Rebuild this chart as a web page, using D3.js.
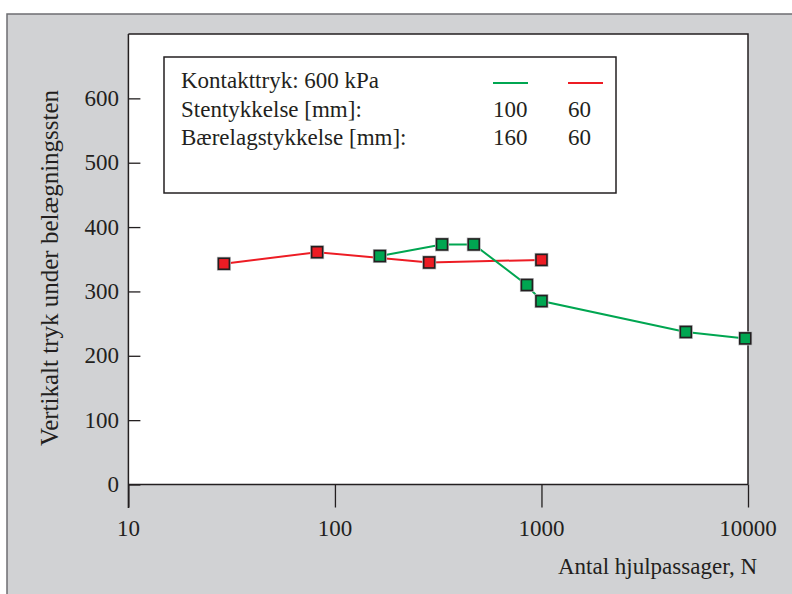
<!DOCTYPE html>
<html>
<head>
<meta charset="utf-8">
<script src="https://cdn.jsdelivr.net/npm/d3@7"></script>
<style>
  body { margin: 0; background: #fff; }
  text { font-family: "Liberation Serif", "Times New Roman", serif; fill: #231f20; }
</style>
</head>
<body>
<script>
const WIDTH = 792;
const HEIGHT = 594;

// data
var greenN = [165, 330, 470, 850, 1000, 5000, 9700];
var greenP = [355, 373, 373, 310, 285, 237, 227];
var redN = [29, 82, 286, 1000];
var redP = [343, 361, 345, 349];

var xTicks = [10, 100, 1000, 10000];
var yTicks = [0, 100, 200, 300, 400, 500, 600];

var legendRows = ['Kontakttryk: 600 kPa', 'Stentykkelse [mm]:', 'Bærelagstykkelse [mm]:'];
var legendGreen = ['', '100', '160'];
var legendRed = ['', '60', '60'];

var GREEN = '#00a651';
var RED = '#ed1c24';
var DARK = '#231f20';

var svg = d3.select('body')
    .append('svg')
    .attr('width', WIDTH)
    .attr('height', HEIGHT);

// grey background panel
svg.append('rect')
    .attr('x', 7)
    .attr('y', 14)
    .attr('width', 800)
    .attr('height', 600)
    .attr('fill', '#d1d2d4')
    .attr('stroke', '#6d6e71')
    .attr('stroke-width', 1.5);

var x = d3.scaleLog().domain([10, 10000]).range([128.4, 748]);
var y = d3.scaleLinear().domain([0, 700]).range([484.5, 34]);

// white plot area
svg.append('rect')
    .attr('x', x.range()[0])
    .attr('y', y.range()[1])
    .attr('width', x.range()[1] - x.range()[0])
    .attr('height', y.range()[0] - y.range()[1])
    .attr('fill', '#fff');

// top and right frame
svg.append('path')
    .attr('d', 'M' + x.range()[0] + ',' + y.range()[1] + 'H' + x.range()[1] + 'V' + y.range()[0])
    .attr('fill', 'none')
    .attr('stroke', DARK)
    .attr('stroke-width', 1.5);

// y axis
var yAxis = svg.append('g')
    .attr('transform', 'translate(' + x.range()[0] + ',0)')
    .call(d3.axisRight(y).tickValues(yTicks).tickSize(12).tickFormat(''));
yAxis.select('.domain').remove();
yAxis.selectAll('line').attr('stroke', DARK).attr('stroke-width', 1.3);
svg.append('line')
    .attr('x1', x.range()[0]).attr('x2', x.range()[0])
    .attr('y1', y.range()[1]).attr('y2', 508)
    .attr('stroke', DARK).attr('stroke-width', 1.5);

svg.selectAll('.ylab')
    .data(yTicks)
    .enter()
    .append('text')
    .attr('class', 'ylab')
    .attr('x', 119)
    .attr('y', function(d) { return y(d) + 7.5; })
    .attr('text-anchor', 'end')
    .attr('font-size', '23px')
    .text(function(d) { return d; });

// x axis
var xAxis = svg.append('g')
    .attr('transform', 'translate(0,' + y.range()[0] + ')')
    .call(d3.axisBottom(x).tickValues(xTicks).tickSize(23).tickFormat(''));
xAxis.select('.domain').remove();
xAxis.selectAll('line').attr('stroke', DARK).attr('stroke-width', 1.3);
svg.append('line')
    .attr('x1', x.range()[0]).attr('x2', x.range()[1])
    .attr('y1', y.range()[0]).attr('y2', y.range()[0])
    .attr('stroke', DARK).attr('stroke-width', 1.5);

svg.selectAll('.xlab')
    .data(xTicks)
    .enter()
    .append('text')
    .attr('class', 'xlab')
    .attr('x', function(d) { return x(d); })
    .attr('y', 536)
    .attr('text-anchor', 'middle')
    .attr('font-size', '23px')
    .text(function(d) { return d; });

svg.append('text')
    .attr('x', 757)
    .attr('y', 574)
    .attr('text-anchor', 'end')
    .attr('font-size', '23px')
    .text('Antal hjulpassager, N');

svg.append('text')
    .attr('transform', 'translate(58,268) rotate(-90)')
    .attr('text-anchor', 'middle')
    .attr('font-size', '25px')
    .text('Vertikalt tryk under belægningssten');

// lines
var line = d3.line()
    .x(function(d) { return x(d[0]); })
    .y(function(d) { return y(d[1]); });

function series(ns, ps, color) {
    var pts = ns.map(function(n, i) { return [n, ps[i]]; });
    svg.append('path')
        .datum(pts)
        .attr('d', line)
        .attr('fill', 'none')
        .attr('stroke', color)
        .attr('stroke-width', 2);
    var g = svg.append('g');
    g.selectAll('.halo')
        .data(pts)
        .enter()
        .append('rect')
        .attr('x', function(d) { return x(d[0]) - 7; })
        .attr('y', function(d) { return y(d[1]) - 7; })
        .attr('width', 14)
        .attr('height', 14)
        .attr('fill', '#bcbec0');
    g.selectAll('.mark')
        .data(pts)
        .enter()
        .append('rect')
        .attr('x', function(d) { return x(d[0]) - 5.5; })
        .attr('y', function(d) { return y(d[1]) - 5.5; })
        .attr('width', 11)
        .attr('height', 11)
        .attr('fill', color)
        .attr('stroke', DARK)
        .attr('stroke-width', 1.6);
}
series(redN, redP, RED);
series(greenN, greenP, GREEN);

// legend
svg.append('rect')
    .attr('x', 164)
    .attr('y', 57)
    .attr('width', 452)
    .attr('height', 136)
    .attr('fill', '#fff')
    .attr('stroke', DARK)
    .attr('stroke-width', 1.5);

svg.selectAll('.legrow')
    .data(legendRows)
    .enter()
    .append('text')
    .attr('x', 181)
    .attr('y', function(d, i) { return 88 + i * 28.5; })
    .attr('font-size', '23px')
    .text(function(d) { return d; });

svg.selectAll('.leggreen')
    .data(legendGreen)
    .enter()
    .append('text')
    .attr('x', 493)
    .attr('y', function(d, i) { return 88 + i * 28.5; })
    .attr('font-size', '23px')
    .text(function(d) { return d; });

svg.selectAll('.legred')
    .data(legendRed)
    .enter()
    .append('text')
    .attr('x', 568)
    .attr('y', function(d, i) { return 88 + i * 28.5; })
    .attr('font-size', '23px')
    .text(function(d) { return d; });

svg.append('line')
    .attr('x1', 493).attr('x2', 528).attr('y1', 83).attr('y2', 83)
    .attr('stroke', GREEN).attr('stroke-width', 2);
svg.append('line')
    .attr('x1', 568).attr('x2', 603).attr('y1', 83).attr('y2', 83)
    .attr('stroke', RED).attr('stroke-width', 2);
</script>
</body>
</html>
